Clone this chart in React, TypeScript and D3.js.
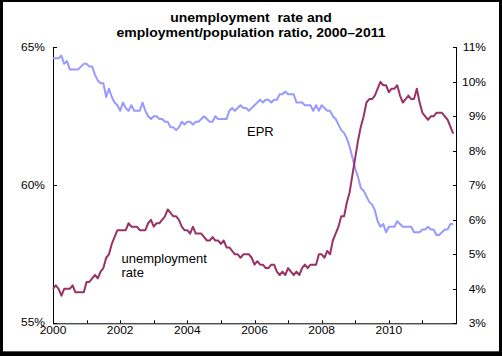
import React from "react";
import * as d3 from "d3";

const years = [2000, 2001, 2002, 2003, 2004, 2005, 2006, 2007, 2008, 2009, 2010, 2011];

const unemploymentRate = [
  4.0, 4.1, 4.0, 3.8, 4.0, 4.0, 4.0, 4.1, 3.9, 3.9, 3.9, 3.9,
  4.2, 4.2, 4.3, 4.4, 4.3, 4.5, 4.6, 4.9, 5.0, 5.3, 5.5, 5.7,
  5.7, 5.7, 5.7, 5.9, 5.8, 5.8, 5.8, 5.7, 5.7, 5.7, 5.9, 6.0,
  5.8, 5.9, 5.9, 6.0, 6.1, 6.3, 6.2, 6.1, 6.1, 6.0, 5.8, 5.7,
  5.7, 5.6, 5.8, 5.6, 5.6, 5.6, 5.5, 5.4, 5.4, 5.5, 5.4, 5.4,
  5.3, 5.4, 5.2, 5.2, 5.1, 5.0, 5.0, 4.9, 5.0, 5.0, 5.0, 4.9,
  4.7, 4.8, 4.7, 4.7, 4.6, 4.6, 4.7, 4.7, 4.5, 4.4, 4.5, 4.4,
  4.6, 4.5, 4.4, 4.5, 4.4, 4.6, 4.7, 4.6, 4.7, 4.7, 4.7, 5.0,
  5.0, 4.9, 5.1, 5.0, 5.4, 5.6, 5.8, 6.1, 6.1, 6.5, 6.8, 7.3,
  7.8, 8.3, 8.7, 9.0, 9.4, 9.5, 9.5, 9.6, 9.8, 10.0, 9.9, 9.9,
  9.7, 9.8, 9.8, 9.9, 9.6, 9.4, 9.5, 9.6, 9.5, 9.5, 9.8, 9.4,
  9.1, 9.0, 8.9, 9.0, 9.0, 9.1, 9.1, 9.1, 9.0, 8.9, 8.7, 8.5,
];

const employmentPopRatio = [
  64.6, 64.6, 64.6, 64.7, 64.4, 64.5, 64.2, 64.2, 64.2, 64.2, 64.3, 64.4,
  64.4, 64.3, 64.3, 64.0, 63.8, 63.7, 63.7, 63.2, 63.5, 63.2, 63.0, 62.9,
  62.7, 63.0, 62.8, 62.7, 62.9, 62.7, 62.7, 62.7, 63.0, 62.7, 62.5, 62.4,
  62.5, 62.5, 62.4, 62.4, 62.3, 62.3, 62.1, 62.1, 62.0, 62.1, 62.3, 62.2,
  62.3, 62.3, 62.2, 62.3, 62.3, 62.4, 62.5, 62.4, 62.3, 62.3, 62.5, 62.4,
  62.4, 62.4, 62.4, 62.7, 62.8, 62.7, 62.8, 62.9, 62.8, 62.8, 62.7, 62.8,
  62.9, 63.0, 63.1, 63.0, 63.1, 63.1, 63.0, 63.1, 63.1, 63.3, 63.3, 63.4,
  63.3, 63.3, 63.3, 63.0, 63.0, 63.0, 62.9, 62.9, 62.9, 62.7, 62.9, 62.7,
  62.9, 62.8, 62.7, 62.7, 62.5, 62.4, 62.2, 62.0, 61.9, 61.7, 61.4, 61.0,
  60.6, 60.3, 59.9, 59.8, 59.6, 59.4, 59.3, 59.1, 58.7, 58.5, 58.6, 58.3,
  58.5, 58.5, 58.5, 58.7, 58.6, 58.5, 58.5, 58.5, 58.5, 58.3, 58.3, 58.3,
  58.4, 58.4, 58.5, 58.4, 58.4, 58.2, 58.2, 58.3, 58.4, 58.4, 58.6, 58.6,
];

const xTickLabels = ["2000", "2002", "2004", "2006", "2008", "2010"];
const leftTicks = [55, 60, 65];
const rightTicks = [3, 4, 5, 6, 7, 8, 9, 10, 11];
const titleLines = ["unemployment  rate and", "employment/population ratio, 2000\u20132011"];

const W = 502;
const H = 356;
const left = 53;
const right = 456;
const top = 47.3;
const bottom = 323.3;
const font = "'Liberation Sans', Arial, Helvetica, sans-serif";

function Squat({ x, y, anchor, size, weight, sy, children }: any) {
  return (
    <text
      transform={`translate(${x},${y}) scale(1,${sy})`}
      textAnchor={anchor}
      fontSize={size}
      fontWeight={weight || "normal"}
      fill="#000"
      style={{ whiteSpace: "pre" }}
    >
      {children}
    </text>
  );
}

export default function App() {
  const x = d3.scaleLinear().domain([2000, 2012]).range([left, right]);
  const yL = d3.scaleLinear().domain([55, 65]).range([bottom, top]);
  const yR = d3.scaleLinear().domain([3, 11]).range([bottom, top]);

  const t = (i: number) => years[0] + i / 12;
  const lineEPR = d3
    .line<number>()
    .x((_, i) => x(t(i)))
    .y((d) => yL(d));
  const lineUR = d3
    .line<number>()
    .x((_, i) => x(t(i)))
    .y((d) => yR(d));

  const allYearTicks = d3.range(2000, 2013);

  return (
    <svg
      width={W}
      height={H}
      style={{ position: "absolute", left: 0, top: 0, display: "block" }}
      fontFamily={font}
    >
      <rect x={0} y={0} width={W} height={H} fill="#000" />
      <rect x={3} y={2} width={496} height={349} fill="#fff" />
      <line x1={3} x2={499} y1={351.5} y2={351.5} stroke="#555" strokeWidth={1} />

      {titleLines.map((s, i) => (
        <Squat key={i} x={251} y={21.5 + i * 15.5} anchor="middle" size={14} weight="bold" sy={0.92}>
          {s}
        </Squat>
      ))}

      {/* axes */}
      <g stroke="#000" strokeWidth={1} fill="none">
        <line x1={left + 0.5} x2={left + 0.5} y1={top} y2={bottom} />
        <line x1={right + 0.5} x2={right + 0.5} y1={top} y2={bottom} />
        <line x1={left} x2={right + 1} y1={bottom + 0.5} y2={bottom + 0.5} />
        {leftTicks.map((v) => (
          <line key={v} x1={left} x2={left + 4} y1={Math.round(yL(v)) + 0.5} y2={Math.round(yL(v)) + 0.5} />
        ))}
        {rightTicks.map((v) => (
          <line key={v} x1={right - 3} x2={right + 1} y1={Math.round(yR(v)) + 0.5} y2={Math.round(yR(v)) + 0.5} />
        ))}
        {allYearTicks.map((v) => (
          <line key={v} x1={Math.round(x(v)) + 0.5} x2={Math.round(x(v)) + 0.5} y1={bottom - 3} y2={bottom} />
        ))}
      </g>

      {leftTicks.map((v) => (
        <Squat key={v} x={45} y={yL(v) + (v === 55 ? 2.8 : 3.6)} anchor="end" size={12} sy={0.85}>
          {v}%
        </Squat>
      ))}
      {rightTicks.map((v) => (
        <Squat key={v} x={486} y={yR(v) + 3.8} anchor="end" size={12} sy={0.85}>
          {v}%
        </Squat>
      ))}
      {xTickLabels.map((s) => (
        <Squat key={s} x={x(+s)} y={333.5} anchor="middle" size={12} sy={0.85}>
          {s}
        </Squat>
      ))}

      <path d={lineEPR(employmentPopRatio) || ""} fill="none" stroke="#9999ff" strokeWidth={2} strokeLinejoin="round" />
      <path d={lineUR(unemploymentRate) || ""} fill="none" stroke="#993366" strokeWidth={2} strokeLinejoin="round" />

      <text x={247} y={135.5} fontSize={13} fill="#000">EPR</text>
      <text x={121.5} y={262.5} fontSize={13} fill="#000">unemployment</text>
      <text x={121.5} y={276.5} fontSize={13} fill="#000">rate</text>
    </svg>
  );
}
